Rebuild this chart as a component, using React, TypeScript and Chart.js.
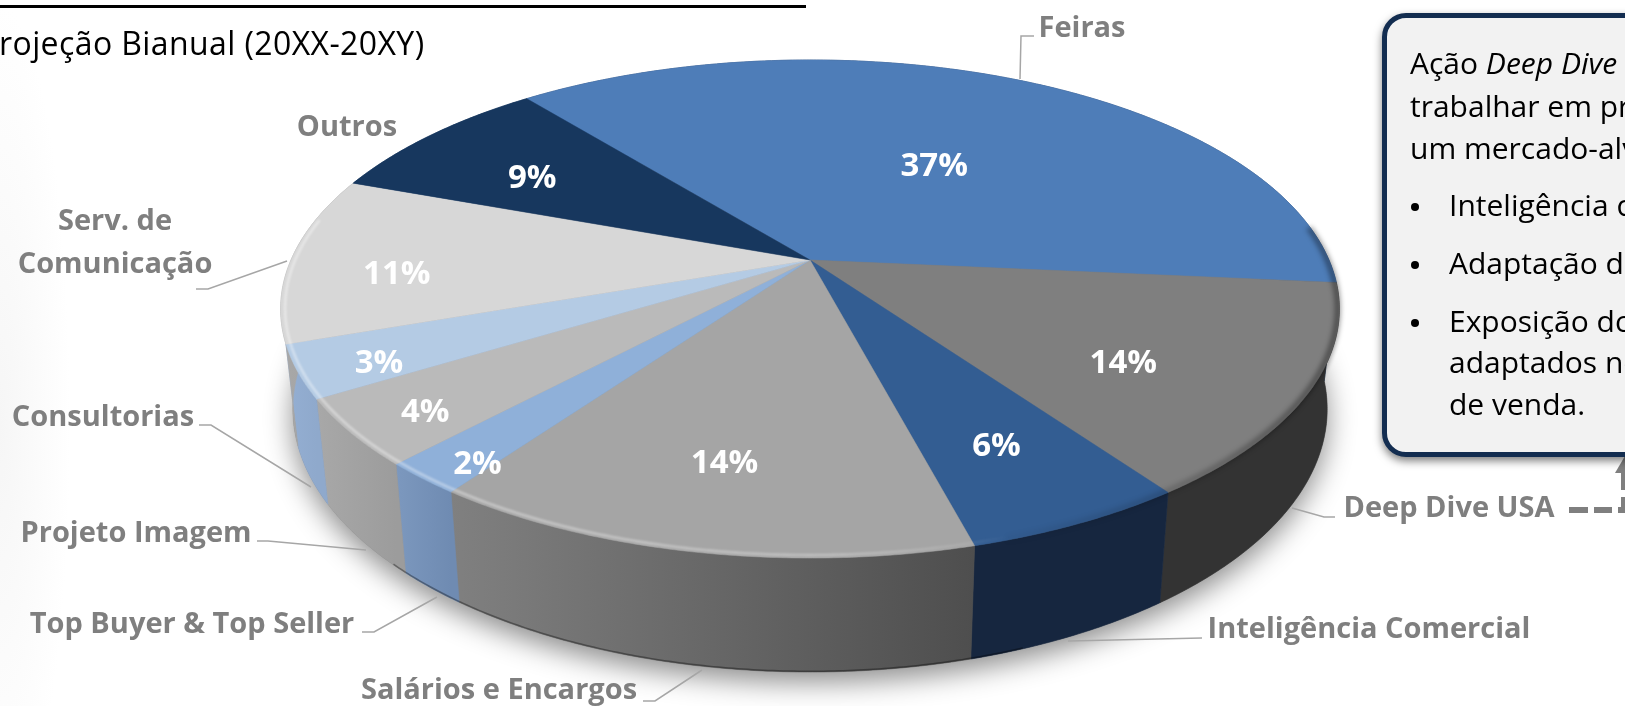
import React, { useEffect, useRef } from "react";
import { Chart, registerables } from "chart.js";

Chart.register(...registerables);

const categories = ["Feiras", "Deep Dive USA", "Inteligência Comercial", "Salários e Encargos", "Top Buyer & Top Seller", "Projeto Imagem", "Consultorias", "Serv. de Comunicação", "Outros"];
const shares = [37.3, 13.7, 5.7, 14.0, 2.1, 4.3, 3.4, 10.9, 8.6];
const topColors = ["#4E7DB8", "#7F7F7F", "#335D92", "#A5A5A5", "#8FB0D9", "#BABABA", "#B4CBE4", "#D7D7D7", "#17375E"];
const wallLeft = ["#2F4F78", "#333333", "#16263F", "#808080", "#7C98BE", "#A8A8A8", "#94AFD3", "#A8A8A8", "#17375E"];
const wallRight = ["#2F4F78", "#333333", "#16263F", "#4E4E4E", "#6F8BB2", "#9C9C9C", "#8FA9CC", "#A0A0A0", "#17375E"];
const pctRadius = [0.51, 0.68, 0.735, 0.733, 0.907, 0.864, 0.86, 0.79, 0.69];
const pctAngleShift = [2.5, 5, 0, 0.8, -2, -1, -1.6, -4, -2];

const outerLabels = [
  { lines: [["Feiras", 1082, 37]], leader: [[1020, 79], [1021, 36], [1034, 36]] },
  { lines: [["Deep Dive USA", 1449, 517]], leader: [[1292, 508], [1324, 517], [1335, 517]] },
  { lines: [["Inteligência Comercial", 1369, 638]], leader: [[1068, 641], [1202, 638]] },
  { lines: [["Salários e Encargos", 499, 699]], leader: [[702, 670], [655, 701], [643, 701]] },
  { lines: [["Top Buyer & Top Seller", 192, 633]], leader: [[437, 597], [374, 632], [362, 632]] },
  { lines: [["Projeto Imagem", 136, 542]], leader: [[366, 550], [268, 541], [257, 541]] },
  { lines: [["Consultorias", 103, 426]], leader: [[311, 487], [211, 425], [199, 425]] },
  { lines: [["Serv. de", 115, 230], ["Comunicação", 115, 273]], leader: [[287, 261], [208, 289], [196, 289]] },
  { lines: [["Outros", 347, 136]], leader: [] },
];

const calloutLines = [
  { x: 1410, y: 75, html: 'Ação <i>Deep Dive</i>' },
  { x: 1410, y: 118, html: "trabalhar em pr" },
  { x: 1410, y: 160, html: "um mercado-alv" },
  { x: 1449, y: 217, html: "Inteligência c" },
  { x: 1449, y: 275, html: "Adaptação d" },
  { x: 1449, y: 333, html: "Exposição do" },
  { x: 1449, y: 374, html: "adaptados no" },
  { x: 1449, y: 416, html: "de venda." },
];
const bulletYs = [207, 265, 323];

const CX = 810, CY = 260, A = 519, B = 239.4, P = 0.1968;
const FONT = "'Open Sans'";

function topPoint(t: number, r = 1) {
  const c = Math.cos(t) * r, s = Math.sin(t) * r, w = 1 - P * s;
  return [CX + (A * c) / w, CY + (B * s) / w];
}
function lowPoint(t: number) {
  const [x, y] = topPoint(t);
  return [CX + (x - CX) * 0.977, y + 114 + (y - 558) * 0.056];
}
function samples(a: number, b: number) {
  const n = Math.max(2, Math.ceil(Math.abs(b - a) / 0.008));
  const out: number[] = [];
  for (let i = 0; i <= n; i++) out.push(a + ((b - a) * i) / n);
  return out;
}
const rad = (d: number) => (d * Math.PI) / 180;

function rimStroke(ctx: CanvasRenderingContext2D, a: number, b: number, r: number, width: number, blur: number, style: any) {
  ctx.save();
  ctx.filter = `blur(${blur}px)`;
  ctx.beginPath();
  samples(a, b).forEach((t, i) => {
    const [x, y] = topPoint(t, r);
    if (i) ctx.lineTo(x, y); else ctx.moveTo(x, y);
  });
  ctx.lineWidth = width;
  ctx.strokeStyle = style;
  ctx.stroke();
  ctx.restore();
}

const piePerspective = {
  id: "piePerspective",
  beforeDatasetsDraw(chart: any) {
    const ctx: CanvasRenderingContext2D = chart.ctx;
    const meta = chart.getDatasetMeta(0);
    const arcs = meta.data;

    ctx.save();
    // Dashed connector
    ctx.fillStyle = "#7F7F7F";
    [[1569, 507, 19, 6], [1594, 507, 18, 6], [1618, 507, 7, 6], [1621, 497, 4, 16], [1621, 473, 4, 17]].forEach((r) => ctx.fillRect(r[0], r[1], r[2], r[3]));
    ctx.beginPath();
    ctx.moveTo(1615, 473);
    ctx.lineTo(1625, 456);
    ctx.lineTo(1625, 473);
    ctx.closePath();
    ctx.fill();

    // Ground shadow
    ctx.save();
    ctx.shadowColor = "rgba(0,0,0,0.45)";
    ctx.shadowBlur = 28;
    ctx.shadowOffsetY = 10;
    ctx.fillStyle = "#777";
    ctx.beginPath();
    samples(0, Math.PI * 2).forEach((t, i) => {
      const [x, y] = lowPoint(t);
      if (i) ctx.lineTo(x, y); else ctx.moveTo(x, y);
    });
    ctx.closePath();
    ctx.fill();
    ctx.restore();

    // Walls
    arcs.forEach((arc: any, i: number) => {
      const ts = samples(arc.startAngle, arc.endAngle);
      const tops = ts.map((t) => topPoint(t));
      const lows = ts.map((t) => lowPoint(t));
      const xs = tops.map((p) => p[0]);
      const g = ctx.createLinearGradient(Math.min(...xs), 0, Math.max(...xs), 0);
      g.addColorStop(0, wallLeft[i]);
      g.addColorStop(1, wallRight[i]);
      ctx.fillStyle = g;
      ctx.strokeStyle = g;
      ctx.lineWidth = 0.6;
      ctx.beginPath();
      tops.forEach((p, k) => (k ? ctx.lineTo(p[0], p[1]) : ctx.moveTo(p[0], p[1])));
      lows.reverse().forEach((p) => ctx.lineTo(p[0], p[1]));
      ctx.closePath();
      ctx.fill();
      ctx.stroke();
    });

    // Dark lower edge of the wall
    ctx.beginPath();
    samples(rad(70), rad(135)).forEach((t, i) => {
      const [x, y] = lowPoint(t);
      if (i) ctx.lineTo(x, y - 0.8); else ctx.moveTo(x, y - 0.8);
    });
    ctx.strokeStyle = "rgba(0,0,0,0.35)";
    ctx.lineWidth = 1.5;
    ctx.stroke();

    // Top faces
    arcs.forEach((arc: any) => {
      ctx.fillStyle = arc.options.backgroundColor;
      ctx.strokeStyle = arc.options.backgroundColor;
      ctx.lineWidth = 0.5;
      ctx.beginPath();
      ctx.moveTo(CX, CY);
      samples(arc.startAngle, arc.endAngle).forEach((t) => {
        const [x, y] = topPoint(t);
        ctx.lineTo(x, y);
      });
      ctx.closePath();
      ctx.fill();
      ctx.stroke();
    });

    // Bevel
    const light = ctx.createLinearGradient(280, 0, 1010, 0);
    light.addColorStop(0, "rgba(255,255,255,0.42)");
    light.addColorStop(0.75, "rgba(255,255,255,0.3)");
    light.addColorStop(0.93, "rgba(255,255,255,0.1)");
    light.addColorStop(1, "rgba(255,255,255,0)");
    rimStroke(ctx, rad(55), rad(190), 0.992, 2.6, 1, light);
    const dark = ctx.createLinearGradient(960, 0, 1340, 0);
    dark.addColorStop(0, "rgba(0,0,0,0.0)");
    dark.addColorStop(0.5, "rgba(0,0,0,0.15)");
    dark.addColorStop(1, "rgba(0,0,0,0.4)");
    rimStroke(ctx, rad(-8), rad(72), 0.997, 6, 2.5, dark);

    // Percentage labels
    const total = shares.reduce((a, b) => a + b, 0);
    ctx.fillStyle = "#FFFFFF";
    ctx.font = `bold 33px ${FONT}`;
    ctx.textAlign = "center";
    ctx.textBaseline = "middle";
    arcs.forEach((arc: any, i: number) => {
      const [x, y] = topPoint((arc.startAngle + arc.endAngle) / 2 + rad(pctAngleShift[i]), pctRadius[i]);
      ctx.fillText(`${Math.round((shares[i] / total) * 100)}%`, x, y + 3);
    });

    // Category labels and leaders
    ctx.textBaseline = "alphabetic";
    ctx.font = `bold 29px ${FONT}`;
    outerLabels.forEach((l) => {
      if (l.leader.length) {
        ctx.beginPath();
        l.leader.forEach((p, k) => (k ? ctx.lineTo(p[0], p[1]) : ctx.moveTo(p[0], p[1])));
        ctx.strokeStyle = "#A6A6A6";
        ctx.lineWidth = 1.5;
        ctx.stroke();
      }
      ctx.fillStyle = "#7F7F7F";
      l.lines.forEach((ln: any) => ctx.fillText(ln[0], ln[1], ln[2]));
    });
    ctx.restore();
    return false;
  },
};

export default function App() {
  const ref = useRef<HTMLCanvasElement>(null);
  useEffect(() => {
    const chart = new Chart(ref.current!, {
      type: "pie",
      data: { labels: categories, datasets: [{ data: shares, backgroundColor: topColors, borderWidth: 0 }] },
      options: {
        animation: false,
        responsive: false,
        rotation: -39,
        events: [],
        layout: { padding: 0 },
        plugins: { legend: { display: false }, tooltip: { enabled: false } },
      },
      plugins: [piePerspective],
    } as any);
    return () => chart.destroy();
  }, []);

  const text = (x: number, base: number, size: number, lh: number): React.CSSProperties => ({
    position: "absolute",
    left: x,
    top: base - (lh - 1.362 * size) / 2 - 1.069 * size,
    fontSize: size,
    lineHeight: `${lh}px`,
    whiteSpace: "nowrap",
    color: "#000",
  });

  return (
    <div style={{ position: "fixed", left: 0, top: 0, width: 1625, height: 706, overflow: "hidden", fontFamily: FONT, background: "radial-gradient(ellipse 70px 420px at 0 60%, #f6f6f6 0, #ffffff 100%)" }}>
      <canvas ref={ref} width={1625} height={706} style={{ position: "absolute", left: 0, top: 0, width: 1625, height: 706 }} />
      <div style={{ position: "absolute", left: 0, top: 5, width: 806, height: 2.5, background: "#000" }} />
      <div style={{ ...text(-1, 55, 32, 44), letterSpacing: 0.4 }}>rojeção Bianual (20XX-20XY)</div>
      <div style={{ position: "absolute", left: 1382, top: 13, width: 400, height: 444, boxSizing: "border-box", border: "5px solid #132D50", borderRadius: 24, background: "#F2F2F2", boxShadow: "0 4px 9px rgba(0,0,0,0.5)" }} />
      {calloutLines.map((l, i) => (
        <div key={i} style={text(l.x, l.y, 30, 44)} dangerouslySetInnerHTML={{ __html: l.html }} />
      ))}
      {bulletYs.map((y) => (
        <div key={y} style={{ position: "absolute", left: 1411, top: y - 4, width: 8, height: 8, borderRadius: 4, background: "#000" }} />
      ))}
    </div>
  );
}
